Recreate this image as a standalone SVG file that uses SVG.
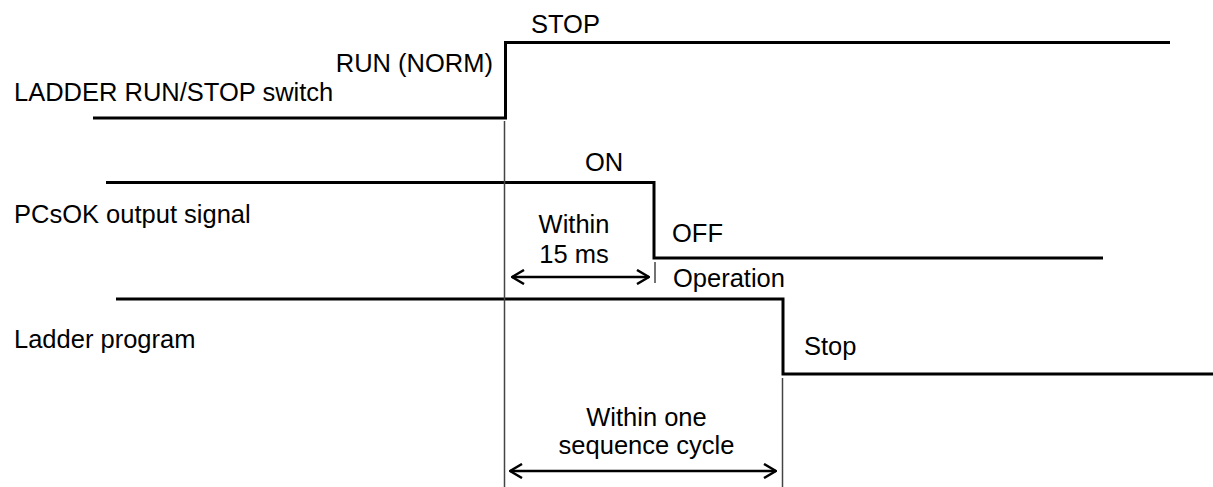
<svg xmlns="http://www.w3.org/2000/svg" width="1213" height="487" viewBox="0 0 1213 487">
<defs>
<style>
text{font-family:"Liberation Sans",Arial,sans-serif;font-size:25.5px;fill:#000}
.sig{fill:none;stroke:#000;stroke-width:3}
.guide{fill:none;stroke:#444;stroke-width:1.5}
.dim{fill:none;stroke:#000;stroke-width:2.5}
.mid{text-anchor:middle}
</style>
<marker id="ah" viewBox="0 0 14 16" refX="13" refY="8" markerWidth="14" markerHeight="16" markerUnits="userSpaceOnUse" orient="auto-start-reverse">
<polyline points="1,1 13,8 1,15" fill="none" stroke="#000" stroke-width="2.5"/>
</marker>
</defs>
<rect width="1213" height="487" fill="#fff"/>
<g id="switch">
<text x="14" y="101">LADDER RUN/STOP switch</text>
<text x="493" y="72" text-anchor="end">RUN (NORM)</text>
<text x="531" y="33">STOP</text>
</g>
<g id="pcsok">
<text x="14" y="223">PCsOK output signal</text>
<text x="585" y="171">ON</text>
<text x="672" y="242">OFF</text>
</g>
<g id="ladder">
<text x="14" y="348">Ladder program</text>
<text x="673" y="287">Operation</text>
<text x="804" y="355">Stop</text>
</g>
<g id="dim15">
<text class="mid" x="574" y="233">Within</text>
<text class="mid" x="574" y="263">15 ms</text>
</g>
<g id="dimcycle">
<text class="mid" x="646.5" y="426">Within one</text>
<text class="mid" x="646.5" y="454">sequence cycle</text>
</g>
<g id="connectors">
<polyline class="sig" points="93,118 505.5,118 505.5,42.5 1170,42.5"/>
<polyline class="sig" points="106,182.5 654,182.5 654,258 1103,258"/>
<polyline class="sig" points="116,299 783,299 783,374 1213,374"/>
<line class="guide" x1="504.5" y1="121" x2="504.5" y2="487"/>
<line class="guide" x1="782.5" y1="378" x2="782.5" y2="487"/>
<line class="guide" x1="655" y1="262" x2="655" y2="283"/>
<line class="dim" x1="512" y1="277" x2="649" y2="277" marker-start="url(#ah)" marker-end="url(#ah)"/>
<line class="dim" x1="510" y1="471" x2="776" y2="471" marker-start="url(#ah)" marker-end="url(#ah)"/>
</g>
</svg>
